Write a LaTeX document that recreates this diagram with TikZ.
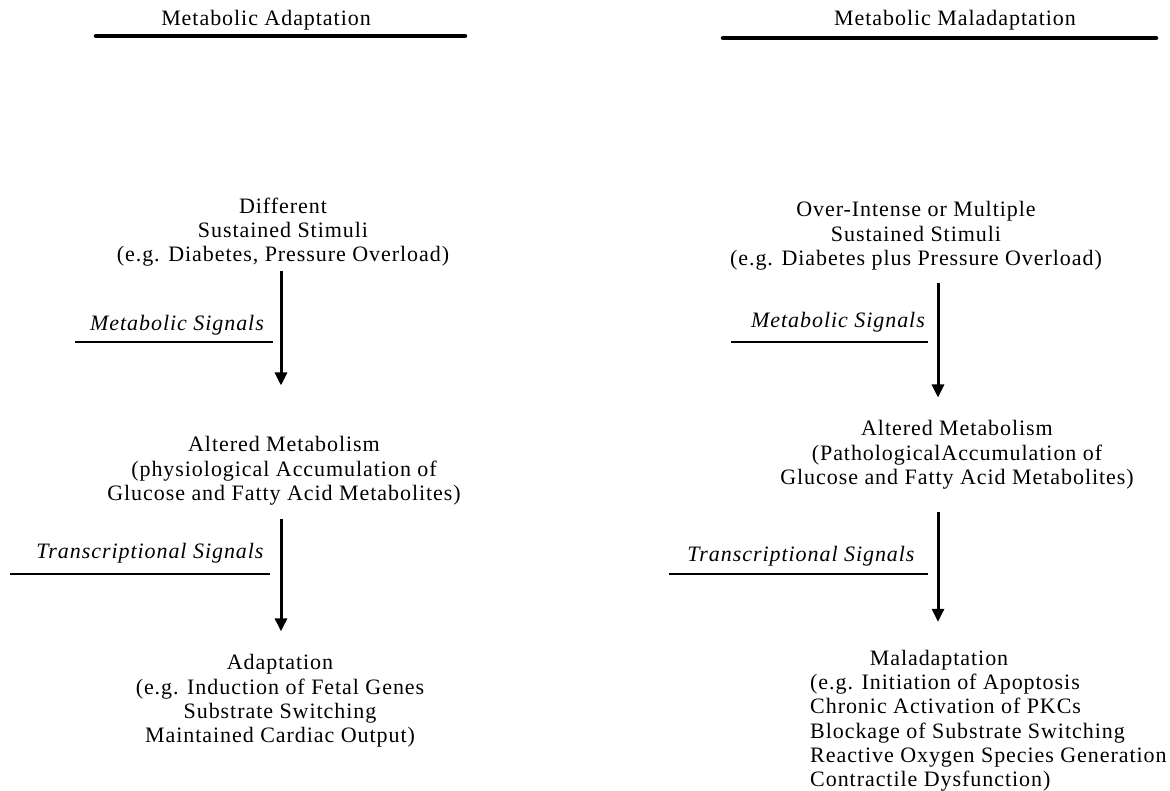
\documentclass[tikz,border=0pt]{standalone}
\usepackage{fontspec}
\setmainfont{Liberation Serif}[LetterSpace=4.3]
\usetikzlibrary{arrows.meta}
\begin{document}
\begin{tikzpicture}[x=1pt,y=-1pt,
  txt/.style={inner sep=0pt,align=center,font=\fontsize{22}{24.3}\selectfont},
  lst/.style={inner sep=0pt,align=left,font=\fontsize{22}{24.3}\selectfont},
  sig/.style={inner sep=0pt,font=\fontsize{22}{24}\selectfont\itshape},
  bar/.style={line width=4.5pt,line cap=round},
  sigbar/.style={line width=2.6pt},
  arr/.style={line width=3pt,-{Triangle[width=12pt,length=13pt]}}]
\useasboundingbox (0,0) rectangle (1170,791);
% titles
\node[txt] (tA) at (266,20) {Metabolic Adaptation};
\coordinate (tA1) at (96,36); \coordinate (tA2) at (465,36);
\draw[bar] (tA1) -- (tA2);
\node[txt] (tM) at (955,20) {Metabolic Maladaptation};
\coordinate (tM1) at (723,38); \coordinate (tM2) at (1156,38);
\draw[bar] (tM1) -- (tM2);
% left column
\node[txt] (stimL) at (283,232) {Different\\Sustained Stimuli\\(e.g. Diabetes, Pressure Overload)};
\node[txt] (altL) at (284,471) {Altered Metabolism\\(physiological Accumulation of\\Glucose and Fatty Acid Metabolites)};
\node[txt] (adaL) at (280,701) {Adaptation\\(e.g. Induction of Fetal Genes\\Substrate Switching\\Maintained Cardiac Output)};
\coordinate (axL) at (281,0);
\draw[arr] ([yshift=-4pt]stimL.south -| axL) -- ([yshift=51pt]altL.north -| axL);
\draw[arr] ([yshift=-13pt]altL.south -| axL) -- ([yshift=23pt]adaL.north -| axL);
\node[sig] (msL) at (177,325) {Metabolic Signals};
\coordinate (msL1) at (75,342); \coordinate (msL2) at (273,342);
\draw[sigbar] (msL1) -- (msL2);
\node[sig] (tsL) at (150,553) {Transcriptional Signals};
\coordinate (tsL1) at (10,574); \coordinate (tsL2) at (270,574);
\draw[sigbar] (tsL1) -- (tsL2);
% right column
\node[txt] (stimR) at (916,236) {Over-Intense or Multiple\\Sustained Stimuli\\(e.g. Diabetes plus Pressure Overload)};
\node[txt] (altR) at (957,455) {Altered Metabolism\\(PathologicalAccumulation of\\Glucose and Fatty Acid Metabolites)};
\node[txt] (malR) at (939,660) {Maladaptation};
\node[lst,anchor=north west] (malList) at (810,674) {(e.g. Initiation of Apoptosis\\Chronic Activation of PKCs\\Blockage of Substrate Switching\\Reactive Oxygen Species Generation\\Contractile Dysfunction)};
\coordinate (axR) at (938,0);
\draw[arr] ([yshift=-12pt]stimR.south -| axR) -- ([yshift=23pt]altR.north -| axR);
\draw[arr] ([yshift=-22pt]altR.south -| axR) -- ([yshift=28pt]malR.north -| axR);
\node[sig] (msR) at (838,322) {Metabolic Signals};
\coordinate (msR1) at (731,342); \coordinate (msR2) at (928,342);
\draw[sigbar] (msR1) -- (msR2);
\node[sig] (tsR) at (801,556) {Transcriptional Signals};
\coordinate (tsR1) at (669,574); \coordinate (tsR2) at (928,574);
\draw[sigbar] (tsR1) -- (tsR2);
\end{tikzpicture}
\end{document}
